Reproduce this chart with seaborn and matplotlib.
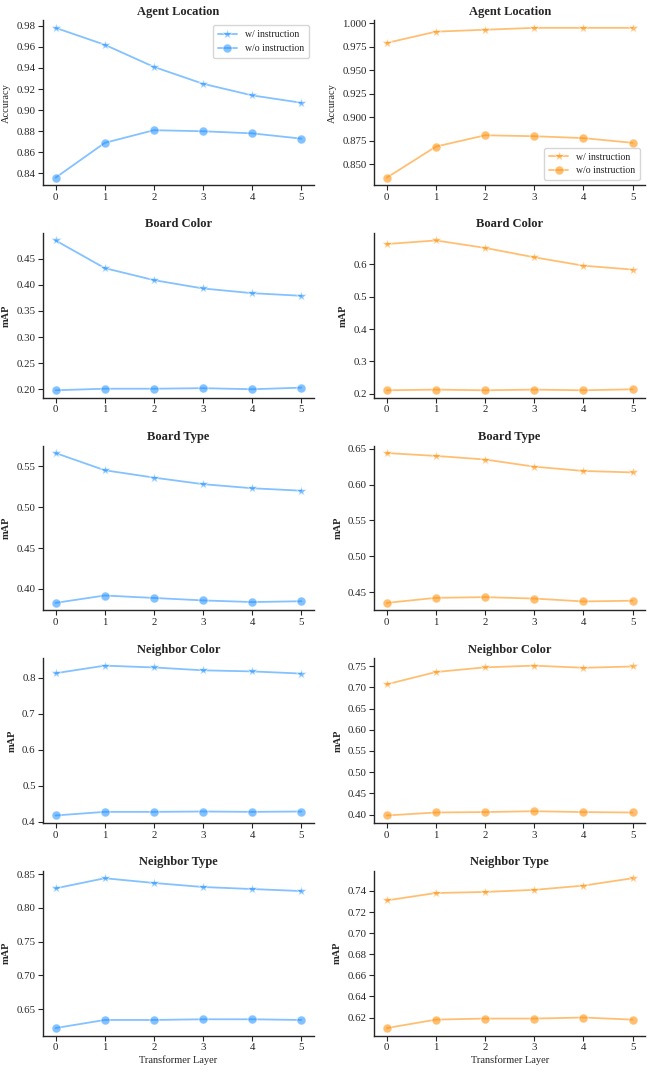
import numpy as np
import pandas as pd
import matplotlib
matplotlib.use("Agg")
import matplotlib.pyplot as plt
from matplotlib.ticker import MultipleLocator
import seaborn as sns

# --- data ---
LAYERS = [0, 1, 2, 3, 4, 5]
TASKS = ["Agent Location", "Board Color", "Board Type", "Neighbor Color", "Neighbor Type"]
YLABELS = ["Accuracy", "mAP", "mAP", "mAP", "mAP"]

# left column (blue)
left_with = [
    [0.978, 0.962, 0.941, 0.925, 0.914, 0.907],
    [0.485, 0.432, 0.409, 0.393, 0.384, 0.379],
    [0.566, 0.545, 0.536, 0.528, 0.523, 0.520],
    [0.813, 0.834, 0.829, 0.821, 0.818, 0.812],
    [0.829, 0.844, 0.837, 0.831, 0.828, 0.825],
]
left_without = [
    [0.836, 0.869, 0.881, 0.880, 0.878, 0.873],
    [0.198, 0.201, 0.201, 0.202, 0.200, 0.203],
    [0.383, 0.392, 0.389, 0.386, 0.384, 0.385],
    [0.418, 0.428, 0.428, 0.429, 0.428, 0.429],
    [0.622, 0.634, 0.634, 0.635, 0.635, 0.634],
]
left_steps = [0.02, 0.05, 0.05, 0.1, 0.05]

# right column (orange)
right_with = [
    [0.979, 0.991, 0.993, 0.995, 0.995, 0.995],
    [0.663, 0.674, 0.651, 0.622, 0.596, 0.584],
    [0.644, 0.640, 0.635, 0.625, 0.619, 0.617],
    [0.707, 0.736, 0.747, 0.751, 0.746, 0.749],
    [0.731, 0.738, 0.739, 0.741, 0.745, 0.752],
]
right_without = [
    [0.836, 0.869, 0.881, 0.880, 0.878, 0.873],
    [0.211, 0.213, 0.211, 0.213, 0.211, 0.214],
    [0.435, 0.442, 0.443, 0.441, 0.437, 0.438],
    [0.398, 0.405, 0.406, 0.408, 0.406, 0.405],
    [0.610, 0.618, 0.619, 0.619, 0.620, 0.618],
]
right_steps = [0.025, 0.1, 0.05, 0.05, 0.02]

BLUE = "#1E90FF"
ORANGE = "#FF8C00"

sns.set_theme(style="ticks")
plt.rcParams["font.family"] = ["Liberation Serif", "DejaVu Serif"]
plt.rcParams["axes.linewidth"] = 1.0

fig, axes = plt.subplots(5, 2, figsize=(6.56, 10.72), dpi=100)
fig.subplots_adjust(left=0.066, right=0.983, top=0.981, bottom=0.034,
                    wspace=0.225, hspace=0.29)

columns = [(left_with, left_without, left_steps, BLUE, "upper right"),
           (right_with, right_without, right_steps, ORANGE, "lower right")]

for col, (w_vals, wo_vals, steps, color, legend_loc) in enumerate(columns):
    for row in range(5):
        ax = axes[row, col]
        sns.lineplot(x=LAYERS, y=w_vals[row], ax=ax, color=color, alpha=0.55,
                     marker="*", markersize=7.5, linewidth=1.3,
                     label="w/ instruction")
        sns.lineplot(x=LAYERS, y=wo_vals[row], ax=ax, color=color, alpha=0.55,
                     marker="o", markersize=6.5, linewidth=1.3,
                     label="w/o instruction")
        ax.yaxis.set_major_locator(MultipleLocator(steps[row]))
        ax.set_title(TASKS[row], fontsize=9, fontweight="bold", pad=4)
        ax.set_ylabel(YLABELS[row], fontsize=7.5,
                      fontweight="normal" if row == 0 else "bold", labelpad=4)
        ax.set_xticks(LAYERS)
        ax.tick_params(labelsize=7.8, length=3.5, width=0.8, pad=2)
        if row == 4:
            ax.set_xlabel("Transformer Layer", fontsize=7.5, labelpad=2)
        else:
            ax.set_xlabel("")
        if row == 0:
            ax.legend(loc=legend_loc, fontsize=7, frameon=True, fancybox=True,
                      handlelength=2.0, borderpad=0.5, labelspacing=0.5)
        else:
            ax.get_legend().remove()
        sns.despine(ax=ax)

fig.savefig("out.png", dpi=100)
